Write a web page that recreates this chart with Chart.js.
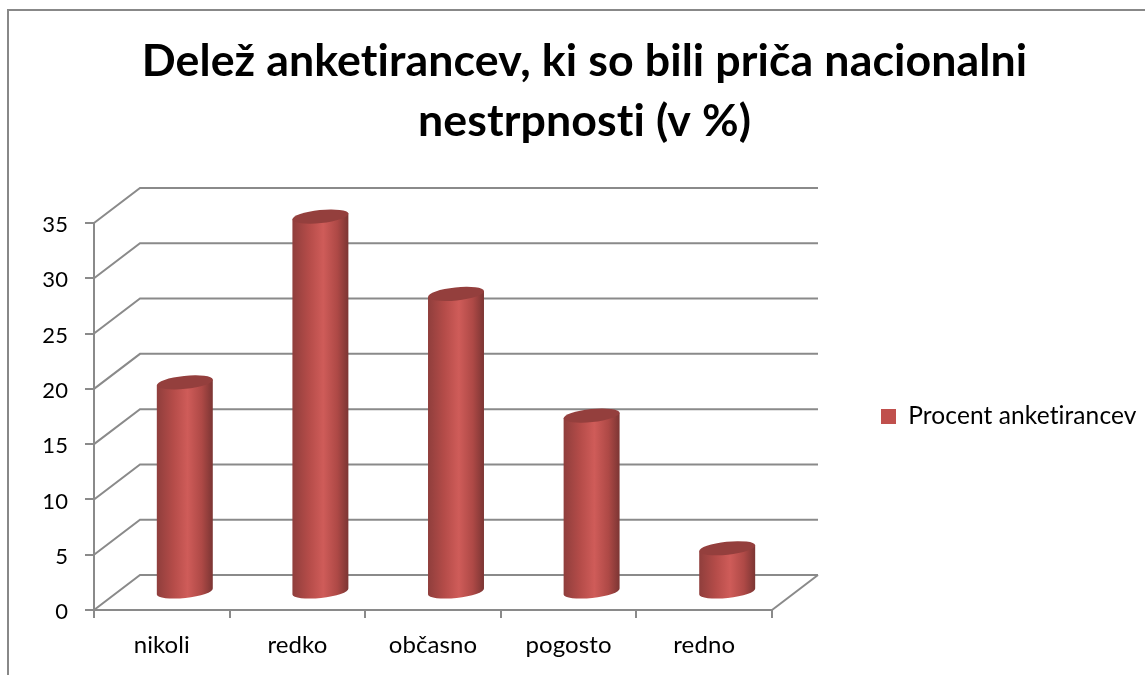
<!DOCTYPE html>
<html>
<head>
<meta charset="utf-8">
<title>Delež anketirancev</title>
<script src="https://cdn.jsdelivr.net/npm/chart.js@4/dist/chart.umd.min.js"></script>
<style>
    html, body { margin: 0; padding: 0; background: #fff; overflow: hidden; }
    #frame { position: absolute; left: 7px; top: 9px; right: 0; bottom: 0; border-left: 2px solid #888; border-top: 2px solid #888; }
    canvas { position: absolute; left: 0; top: 0; }
</style>
</head>
<body>
<div id="frame"></div>
<canvas id="graph" width="1145" height="675"></canvas>
<script>
const categories = ['nikoli', 'redko', 'občasno', 'pogosto', 'redno'];
const values = [19, 34, 27, 16, 4];
const seriesName = 'Procent anketirancev';
const titleLines = ['Delež anketirancev, ki so bili priča nacionalni', 'nestrpnosti (v %)'];

const yMin = 0;
const yMax = 35;
const yStep = 5;

// depth of the fake 3d box, in pixels
const depthX = 46;
const depthY = 35;
const gridColor = '#8a8a8a';
const fontName = 'Lato, Carlito, sans-serif';

// walls and floor behind the bars
const walls = {
    id: 'walls',
    // a tiny spacing switches off the "ti" ligature of Lato
    beforeLayout(chart) {
        chart.ctx.letterSpacing = '0.1px';
    },
    beforeDatasetsDraw(chart) {
        const { ctx, chartArea, scales } = chart;
        ctx.save();
        ctx.strokeStyle = gridColor;
        ctx.lineWidth = 2;
        scales.y.ticks.forEach((tick) => {
            const y = scales.y.getPixelForValue(tick.value);
            ctx.beginPath();
            ctx.moveTo(chartArea.left, y);
            ctx.lineTo(chartArea.left + depthX, y - depthY);
            ctx.lineTo(chartArea.right + depthX, y - depthY);
            ctx.stroke();
        });
        ctx.beginPath();
        ctx.moveTo(chartArea.right, chartArea.bottom);
        ctx.lineTo(chartArea.right + depthX, chartArea.bottom - depthY);
        ctx.stroke();
        ctx.restore();
    }
};

// every bar element is painted as a cylinder, half way into the box
const cylinders = {
    id: 'cylinders',
    beforeDatasetDraw(chart, args) {
        const { ctx } = chart;
        const tilt = -0.105;
        chart.getDatasetMeta(args.index).data.forEach((bar) => {
            const cx = bar.x + depthX / 2;
            const top = bar.y - depthY / 2;
            const bottom = bar.base - depthY / 2;
            const rx = bar.width / 2;
            const ry = 6.5;
            const dx = rx * Math.cos(tilt);
            const dy = rx * Math.sin(tilt);

            const shade = ctx.createLinearGradient(cx - rx, 0, cx + rx, 0);
            shade.addColorStop(0, '#8f3e3c');
            shade.addColorStop(0.3, '#b54c49');
            shade.addColorStop(0.55, '#cf5c59');
            shade.addColorStop(0.8, '#ae4946');
            shade.addColorStop(1, '#7b3533');

            ctx.save();
            ctx.fillStyle = shade;
            ctx.beginPath();
            ctx.moveTo(cx - dx, top - dy);
            ctx.lineTo(cx - dx, bottom - dy);
            ctx.ellipse(cx, bottom, rx, ry, tilt, Math.PI, 0, true);
            ctx.lineTo(cx + dx, top + dy);
            ctx.closePath();
            ctx.fill();

            ctx.fillStyle = '#943f3d';
            ctx.beginPath();
            ctx.ellipse(cx, top, rx, ry, tilt, 0, Math.PI * 2);
            ctx.fill();
            ctx.restore();
        });
        return false;
    }
};

new Chart(document.getElementById('graph'), {
    type: 'bar',
    data: {
        labels: categories,
        datasets: [{
            label: seriesName,
            data: values,
            backgroundColor: '#C0504D',
            borderWidth: 0,
            categoryPercentage: 1,
            barPercentage: 0.415
        }]
    },
    options: {
        responsive: false,
        animation: false,
        layout: { padding: { left: 24, right: 0, top: 0, bottom: 0 } },
        plugins: {
            tooltip: { enabled: false },
            title: {
                display: true,
                text: titleLines,
                color: '#000',
                font: { family: fontName, size: 44.7, weight: 'bold', lineHeight: 1.342 },
                padding: { top: 32, bottom: 71 }
            },
            legend: {
                position: 'right',
                fullSize: false,
                maxWidth: 275,
                labels: {
                    color: '#000',
                    font: { family: fontName, size: 24.5 },
                    boxWidth: 15,
                    boxHeight: 15,
                    padding: 11
                }
            }
        },
        scales: {
            x: {
                grid: { drawOnChartArea: false, color: gridColor, lineWidth: 2, tickLength: 8 },
                border: { color: gridColor, width: 2 },
                ticks: { color: '#000', padding: 13, font: { family: fontName, size: 24 }, maxRotation: 0 },
                afterFit(scale) { scale.height = 65; }
            },
            y: {
                min: yMin,
                max: yMax,
                grid: { drawOnChartArea: false, color: gridColor, lineWidth: 2, tickLength: 9 },
                border: { color: gridColor, width: 2 },
                ticks: { stepSize: yStep, color: '#000', padding: 17, labelOffset: 2, font: { family: fontName, size: 22 } },
                afterFit(scale) { scale.width = 70; }
            },
            // empty axis, only keeps the legend away from the plot
            spacer: {
                axis: 'y',
                position: 'right',
                grid: { display: false },
                border: { display: false },
                ticks: { display: false },
                afterFit(scale) { scale.width = 98; }
            }
        }
    },
    plugins: [walls, cylinders]
});
</script>
</body>
</html>
